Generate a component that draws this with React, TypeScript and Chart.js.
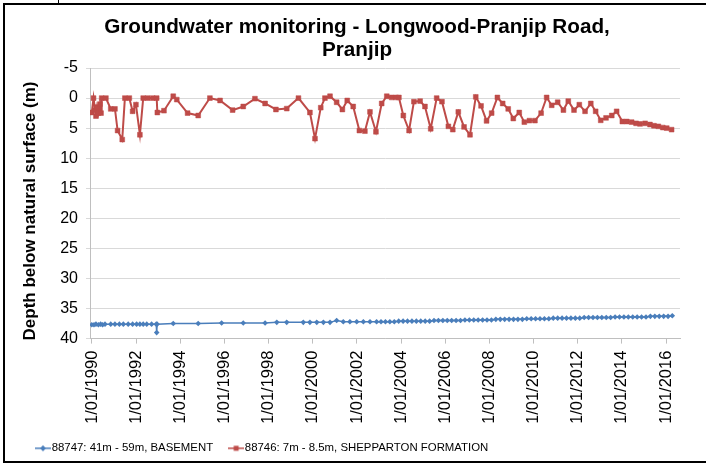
import React, { useEffect, useRef } from "react";
import { Chart, registerables } from "chart.js";

Chart.register(...registerables);

const TITLE_LINES = ["Groundwater monitoring - Longwood-Pranjip Road,", "Pranjip"];
const Y_TITLE = "Depth below natural surface (m)";

const X_TICK_YEARS = [1990, 1992, 1994, 1996, 1998, 2000, 2002, 2004, 2006, 2008, 2010, 2012, 2014, 2016];
const X_TICK_LABELS = X_TICK_YEARS.map((y) => "1/01/" + y);

const SERIES_BLUE_NAME = "88747: 41m - 59m, BASEMENT";
const SERIES_RED_NAME = "88746: 7m - 8.5m, SHEPPARTON FORMATION";

// sample times in decimal years
const BLUE_TIMES = [
  1989.99, 1990.09, 1990.18, 1990.29, 1990.39, 1990.48, 1990.59, 1990.85, 1991.04, 1991.24,
  1991.42, 1991.64, 1991.84, 1992.02, 1992.17, 1992.32, 1992.48, 1992.70, 1992.91, 1992.93,
  1992.95, 1993.68, 1994.81, 1995.87, 1996.85, 1997.84, 1998.37, 1998.82, 1999.57, 1999.87,
  2000.18, 2000.48, 2000.78, 2001.08, 2001.38, 2001.68, 2001.99, 2002.29, 2002.59, 2002.89,
  2003.09, 2003.29, 2003.49, 2003.69, 2003.89, 2004.09, 2004.29, 2004.49, 2004.69, 2004.89,
  2005.09, 2005.29, 2005.49, 2005.69, 2005.89, 2006.09, 2006.29, 2006.49, 2006.69, 2006.89,
  2007.09, 2007.29, 2007.49, 2007.69, 2007.89, 2008.09, 2008.29, 2008.49, 2008.69, 2008.89,
  2009.09, 2009.29, 2009.49, 2009.69, 2009.89, 2010.09, 2010.29, 2010.49, 2010.69, 2010.89,
  2011.09, 2011.29, 2011.49, 2011.69, 2011.89, 2012.09, 2012.29, 2012.49, 2012.69, 2012.89,
  2013.09, 2013.29, 2013.49, 2013.69, 2013.89, 2014.09, 2014.29, 2014.49, 2014.69, 2014.89,
  2015.09, 2015.29, 2015.49, 2015.69, 2015.89, 2016.09, 2016.28,
];
const BLUE_DEPTHS = [
  37.7, 37.7, 37.6, 37.7, 37.6, 37.7, 37.6, 37.6, 37.6, 37.6,
  37.6, 37.6, 37.6, 37.6, 37.6, 37.6, 37.6, 37.6, 37.6, 39.0,
  37.6, 37.5, 37.5, 37.4, 37.4, 37.4, 37.3, 37.3, 37.3, 37.3,
  37.3, 37.3, 37.3, 37.0, 37.2, 37.2, 37.2, 37.2, 37.2, 37.2,
  37.2, 37.2, 37.2, 37.2, 37.1, 37.1, 37.1, 37.1, 37.1, 37.1,
  37.1, 37.1, 37.0, 37.0, 37.0, 37.0, 37.0, 37.0, 37.0, 36.9,
  36.9, 36.9, 36.9, 36.9, 36.9, 36.9, 36.8, 36.8, 36.8, 36.8,
  36.8, 36.8, 36.8, 36.7, 36.7, 36.7, 36.7, 36.7, 36.7, 36.6,
  36.6, 36.6, 36.6, 36.6, 36.6, 36.6, 36.5, 36.5, 36.5, 36.5,
  36.5, 36.5, 36.5, 36.4, 36.4, 36.4, 36.4, 36.4, 36.4, 36.4,
  36.4, 36.3, 36.3, 36.3, 36.3, 36.3, 36.2,
];

const RED_TIMES = [
  1989.99, 1990.07, 1990.14, 1990.18, 1990.23, 1990.29, 1990.36, 1990.41, 1990.44, 1990.63,
  1990.85, 1991.04, 1991.16, 1991.37, 1991.49, 1991.69, 1991.84, 1991.99, 1992.17, 1992.32,
  1992.52, 1992.75, 1992.93, 1992.96, 1993.26, 1993.68, 1993.84, 1994.33, 1994.81, 1995.34,
  1995.80, 1996.37, 1996.85, 1997.38, 1997.84, 1998.33, 1998.82, 1999.35, 1999.87, 2000.10,
  2000.36, 2000.55, 2000.78, 2001.08, 2001.34, 2001.56, 2001.83, 2002.11, 2002.36, 2002.59,
  2002.86, 2003.12, 2003.35, 2003.57, 2003.77, 2003.90, 2004.10, 2004.36, 2004.58, 2004.86,
  2005.08, 2005.34, 2005.61, 2005.85, 2006.14, 2006.34, 2006.59, 2006.85, 2007.12, 2007.38,
  2007.62, 2007.87, 2008.10, 2008.36, 2008.60, 2008.85, 2009.08, 2009.35, 2009.58, 2009.81,
  2010.06, 2010.34, 2010.59, 2010.82, 2011.09, 2011.35, 2011.57, 2011.83, 2012.07, 2012.33,
  2012.59, 2012.81, 2013.04, 2013.28, 2013.54, 2013.76, 2014.02, 2014.22, 2014.44, 2014.64,
  2014.82, 2015.05, 2015.27, 2015.45, 2015.65, 2015.85, 2016.03, 2016.25,
];
const RED_DEPTHS = [
  2.4, 0.0, 2.0, 3.0, 1.5, 2.5, 1.0, 2.5, 0.0, 0.0,
  1.8, 1.8, 5.4, 6.9, 0.0, 0.0, 2.2, 1.1, 6.1, 0.0,
  0.0, 0.0, 0.0, 2.4, 2.1, -0.3, 0.25, 2.5, 2.9, 0.0,
  0.4, 2.0, 1.4, 0.1, 0.9, 1.9, 1.75, 0.0, 2.4, 6.75,
  1.6, 0.0, -0.3, 0.7, 1.9, 0.4, 1.4, 5.4, 5.5, 2.3,
  5.6, 0.9, -0.3, -0.1, -0.1, -0.1, 2.9, 5.4, 0.6, 0.5,
  1.4, 5.1, 0.0, 0.6, 4.7, 5.25, 2.3, 4.8, 6.1, -0.2,
  1.3, 3.8, 2.5, -0.1, 0.9, 1.8, 3.4, 2.4, 4.0, 3.75,
  3.75, 2.5, -0.1, 1.2, 0.7, 2.0, 0.5, 2.0, 1.1, 2.2,
  0.9, 2.2, 3.7, 3.3, 2.9, 2.2, 3.9, 3.9, 4.0, 4.2,
  4.3, 4.2, 4.4, 4.6, 4.7, 4.9, 5.0, 5.25,
];

const X_MIN = 1989.91;
const X_MAX = 2016.63;
const Y_MIN = -5;
const Y_MAX = 40;
const Y_STEP = 5;

const BLUE = "#4a7ebb";
const RED = "#be4b48";
const FONT = '"Liberation Sans", Arial, sans-serif';

function makeIcon(color: string, style: "diamond" | "square"): HTMLCanvasElement {
  const c = document.createElement("canvas");
  c.width = 16;
  c.height = 8;
  const g = c.getContext("2d")!;
  g.strokeStyle = color;
  g.fillStyle = color;
  g.lineWidth = 1.5;
  g.beginPath();
  g.moveTo(0, 4);
  g.lineTo(16, 4);
  g.stroke();
  g.beginPath();
  if (style === "diamond") {
    g.moveTo(8, 1);
    g.lineTo(11, 4);
    g.lineTo(8, 7);
    g.lineTo(5, 4);
    g.closePath();
  } else {
    g.rect(5.5, 1.5, 5, 5);
  }
  g.fill();
  return c;
}

const decorPlugin = {
  id: "decor",
  beforeDraw(chart: any) {
    const ctx = chart.ctx;
    ctx.save();
    ctx.fillStyle = "#ffffff";
    ctx.fillRect(0, 0, chart.width, chart.height);
    ctx.restore();
  },
  afterDraw(chart: any) {
    const ctx = chart.ctx;
    ctx.save();
    ctx.strokeStyle = "#000";
    ctx.lineWidth = 2;
    ctx.beginPath();
    ctx.moveTo(chart.width, 4);
    ctx.lineTo(4, 4);
    ctx.lineTo(4, 462);
    ctx.lineTo(chart.width, 462);
    ctx.stroke();
    ctx.lineWidth = 1;
    ctx.beginPath();
    ctx.moveTo(58.5, 0);
    ctx.lineTo(58.5, 4);
    ctx.stroke();

    ctx.fillStyle = "#000";
    ctx.textAlign = "center";
    ctx.textBaseline = "alphabetic";
    ctx.font = "bold 20.7px " + FONT;
    TITLE_LINES.forEach((t, i) => ctx.fillText(t, 357, 33 + i * 23));

    ctx.translate(30, 211);
    ctx.rotate(-Math.PI / 2);
    ctx.font = "bold 17px " + FONT;
    ctx.textBaseline = "middle";
    ctx.fillText(Y_TITLE, 0, 0);
    ctx.restore();
  },
};

export default function App() {
  const ref = useRef<HTMLCanvasElement | null>(null);

  useEffect(() => {
    if (!ref.current) return;
    const icons = [makeIcon(BLUE, "diamond"), makeIcon(RED, "square")];
    const chart = new Chart(ref.current, {
      type: "line",
      data: {
        datasets: [
          {
            label: SERIES_BLUE_NAME,
            data: BLUE_TIMES.map((t, i) => ({ x: t, y: BLUE_DEPTHS[i] })),
            borderColor: BLUE,
            backgroundColor: BLUE,
            borderWidth: 1.5,
            pointStyle: "rectRot",
            pointRadius: 2.8,
            pointBorderWidth: 0,
            tension: 0,
          },
          {
            label: SERIES_RED_NAME,
            data: RED_TIMES.map((t, i) => ({ x: t, y: RED_DEPTHS[i] })),
            borderColor: RED,
            backgroundColor: RED,
            borderWidth: 2,
            pointStyle: "rect",
            pointRadius: 3.4,
            pointBorderWidth: 0.5,
            tension: 0,
          },
        ],
      },
      options: {
        animation: false,
        responsive: false,
        layout: { padding: { left: 20, right: 26, top: 68, bottom: 0 } },
        plugins: {
          title: { display: false },
          tooltip: { enabled: false },
          legend: {
            display: true,
            position: "bottom",
            align: "start",
            labels: {
              usePointStyle: true,
              pointStyleWidth: 6,
              padding: 20,
              color: "#000",
              font: { family: FONT, size: 11.4 },
              generateLabels: (c: any) => {
                const items = Chart.defaults.plugins.legend.labels.generateLabels(c);
                items.forEach((it: any, i: number) => {
                  it.pointStyle = icons[i];
                  it.rotation = 0;
                });
                return items;
              },
            },
          },
        },
        scales: {
          x: {
            type: "linear",
            min: X_MIN,
            max: X_MAX,
            afterBuildTicks: (scale: any) => {
              scale.ticks = X_TICK_YEARS.map((v) => ({ value: v }));
            },
            afterFit: (scale: any) => {
              scale.height = 84;
            },
            ticks: {
              autoSkip: false,
              minRotation: 90,
              maxRotation: 90,
              padding: 7,
              color: "#000",
              font: { family: FONT, size: 16.5 },
              callback: (v: any) => {
                const idx = X_TICK_YEARS.indexOf(Number(v));
                return idx >= 0 ? X_TICK_LABELS[idx] : "";
              },
            },
            grid: {
              display: true,
              drawOnChartArea: false,
              drawTicks: true,
              tickLength: 5,
              color: "#bfbfbf",
            },
            border: { display: true, color: "#bfbfbf", width: 1 },
          },
          y: {
            type: "linear",
            reverse: true,
            min: Y_MIN,
            max: Y_MAX,
            afterFit: (scale: any) => {
              scale.width = 70;
            },
            ticks: {
              stepSize: Y_STEP,
              padding: 8,
              color: "#000",
              font: { family: FONT, size: 16 },
            },
            grid: {
              color: "#d9d9d9",
              drawTicks: true,
              tickLength: 4,
            },
            border: { display: true, color: "#bfbfbf", width: 1 },
          },
        },
      },
      plugins: [decorPlugin],
    } as any);
    return () => chart.destroy();
  }, []);

  return (
    <div style={{ position: "absolute", left: 0, top: 0, width: 706, height: 464 }}>
      <canvas ref={ref} width={706} height={464} style={{ display: "block" }} />
    </div>
  );
}
